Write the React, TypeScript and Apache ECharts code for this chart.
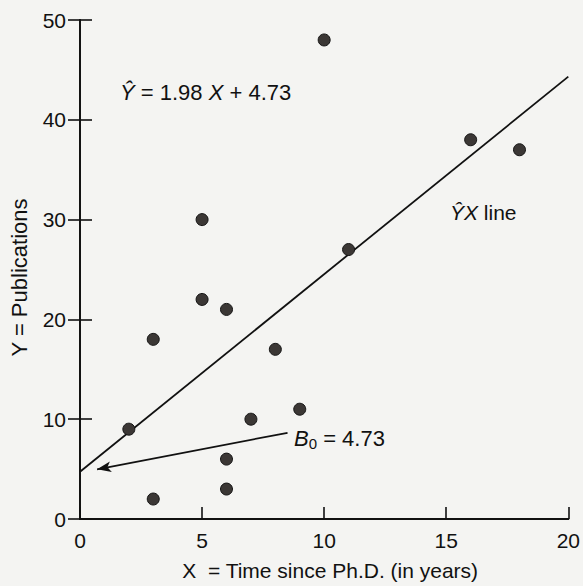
import React, { useEffect, useRef } from "react";
import * as echarts from "echarts";

// Data (Time since Ph.D. vs. Publications)
const timeSincePhD = [3, 6, 3, 8, 9, 6, 16, 10, 2, 5, 5, 6, 7, 11, 18];
const publications = [18, 3, 2, 17, 11, 6, 38, 48, 9, 22, 30, 21, 10, 27, 37];
const xTickValues = [0, 5, 10, 15, 20];
const yTickValues = [0, 10, 20, 30, 40, 50];
// Regression line endpoints: Y = 1.98 X + 4.73
const regressionLine = [
  [0, 4.73],
  [20, 44.33],
];
const arrowFrom = [8.5, 8.64];
const arrowTo = [0.7, 4.98];

const FONT = "'Liberation Sans', Arial, Helvetica, sans-serif";
const INK = "#111111";

export default function App() {
  const ref = useRef<HTMLDivElement>(null);

  useEffect(() => {
    if (!ref.current) return;
    const chart = echarts.init(ref.current, undefined, { renderer: "svg" });
    const points = timeSincePhD.map((x, i) => [x, publications[i]]);

    const axisLine = { show: true, lineStyle: { color: INK, width: 1.8 } };
    const tick = { show: true, inside: true, length: 12, lineStyle: { color: INK, width: 1.6 } };

    chart.setOption({
      animation: false,
      backgroundColor: "#f4f4f2",
      grid: { left: 79, right: 10, top: 20, bottom: 65, containLabel: false },
      xAxis: [
        {
          type: "value",
          min: xTickValues[0],
          max: xTickValues[xTickValues.length - 1],
          interval: 5,
          position: "bottom",
          axisLine,
          axisTick: tick,
          splitLine: { show: false },
          axisLabel: { color: INK, fontSize: 21, fontFamily: FONT, margin: 11 },
          name: "X  = Time since Ph.D. (in years)",
          nameLocation: "middle",
          nameGap: 41,
          nameTextStyle: { color: INK, fontSize: 21, fontFamily: FONT, verticalAlign: "top", padding: [0, 0, 0, 12] },
        },
        {
          type: "value",
          min: 0,
          max: 20,
          interval: 5,
          position: "top",
          axisLine,
          axisTick: { show: false },
          axisLabel: { show: false },
          splitLine: { show: false },
        },
      ],
      yAxis: [
        {
          type: "value",
          min: yTickValues[0],
          max: yTickValues[yTickValues.length - 1],
          interval: 10,
          position: "left",
          axisLine,
          axisTick: tick,
          splitLine: { show: false },
          axisLabel: { color: INK, fontSize: 21, fontFamily: FONT, margin: 14 },
          name: "Y = Publications",
          nameLocation: "middle",
          nameGap: 50,
          nameRotate: 90,
          nameTextStyle: { color: INK, fontSize: 22, fontFamily: FONT, padding: [0, 16, 0, 0] },
        },
        {
          type: "value",
          min: 0,
          max: 50,
          interval: 10,
          position: "right",
          axisLine,
          axisTick: tick,
          axisLabel: { show: false },
          splitLine: { show: false },
        },
      ],
      series: [
        {
          type: "line",
          data: regressionLine,
          symbol: "none",
          clip: true,
          lineStyle: { color: INK, width: 1.8 },
          markLine: {
            silent: true,
            symbol: ["none", "arrow"],
            symbolSize: [8, 14],
            label: { show: false },
            lineStyle: { color: INK, width: 1.8, type: "solid" },
            data: [[{ coord: arrowFrom }, { coord: arrowTo }]],
          },
          z: 2,
        },
        {
          type: "scatter",
          data: points,
          symbol: "circle",
          symbolSize: 12,
          itemStyle: { color: "#3b3735", borderColor: "#141414", borderWidth: 1, opacity: 1 },
          z: 3,
        },
      ],
      graphic: [
        {
          type: "text",
          x: 120,
          y: 92,
          style: {
            text: "{i|Ŷ}{n| = 1.98 }{i|X}{n| + 4.73}",
            verticalAlign: "middle",
            fill: INK,
            rich: {
              i: { fontSize: 22, fontFamily: FONT, fontStyle: "italic", fill: INK },
              n: { fontSize: 22, fontFamily: FONT, fill: INK },
            },
          },
        },
        {
          type: "text",
          x: 450,
          y: 212,
          style: {
            text: "{i|ŶX}{n| line}",
            verticalAlign: "middle",
            fill: INK,
            rich: {
              i: { fontSize: 21, fontFamily: FONT, fontStyle: "italic", fill: INK },
              n: { fontSize: 21, fontFamily: FONT, fill: INK },
            },
          },
        },
        {
          type: "text",
          x: 294,
          y: 438,
          style: {
            text: "{i|B}{s|0}{n| = 4.73}",
            verticalAlign: "middle",
            fill: INK,
            rich: {
              i: { fontSize: 22, fontFamily: FONT, fontStyle: "italic", fill: INK, lineHeight: 26 },
              s: { fontSize: 15, fontFamily: FONT, fill: INK, lineHeight: 26, verticalAlign: "bottom" },
              n: { fontSize: 22, fontFamily: FONT, fill: INK, lineHeight: 26 },
            },
          },
        },
      ],
    });

    return () => chart.dispose();
  }, []);

  return (
    <div
      ref={ref}
      style={{ position: "fixed", left: 0, top: 0, width: 583, height: 586 }}
    />
  );
}
